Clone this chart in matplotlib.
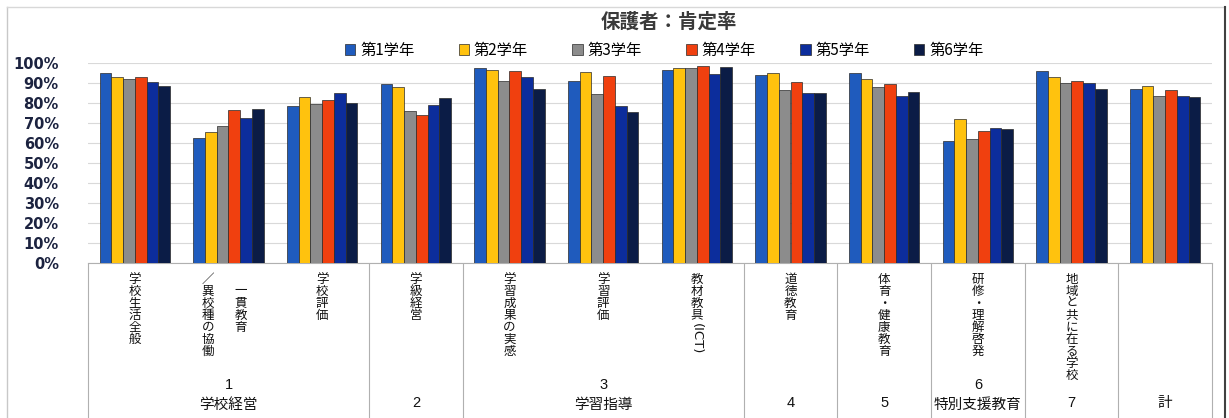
#保護者の肯定率を学年別に並べた棒グラフ
import numpy as np
import matplotlib.pyplot as plt
from matplotlib.transforms import blended_transform_factory
from matplotlib.lines import Line2D

plt.rcParams['font.family'] = ['Noto Sans CJK JP', 'DejaVu Sans']

grades = ["第1学年", "第2学年", "第3学年", "第4学年", "第5学年", "第6学年"]
categories = ["学校生活全般", "　一貫教育\n／異校種の協働", "学校評価", "学級経営",
              "学習成果の実感", "学習評価", "教材教具(ICT)", "道徳教育",
              "体育・健康教育", "研修・理解啓発", "地域と共に在る学校", ""]
groups = ["1\n学校経営", "2", "3\n学習指導", "4", "5", "6\n特別支援教育", "7", "計"]
group_sizes = [3, 1, 3, 1, 1, 1, 1, 1]
y_ticks = [0, 10, 20, 30, 40, 50, 60, 70, 80, 90, 100]
y_tick_labels = ["0%", "10%", "20%", "30%", "40%", "50%", "60%", "70%", "80%", "90%", "100%"]

rate_g1 = [95.0, 62.3, 78.3, 89.7, 97.5, 90.8, 96.3, 93.8, 94.8, 61.0, 96.0, 87.2]
rate_g2 = [93.0, 65.7, 83.0, 87.8, 96.5, 95.3, 97.3, 95.2, 91.8, 72.0, 93.0, 88.3]
rate_g3 = [92.0, 68.3, 79.3, 76.0, 91.2, 84.7, 97.7, 86.7, 88.0, 62.0, 90.2, 83.5]
rate_g4 = [93.2, 76.5, 81.5, 74.0, 96.0, 93.3, 98.5, 90.7, 89.3, 65.8, 90.8, 86.3]
rate_g5 = [90.3, 72.5, 85.2, 78.8, 93.2, 78.7, 94.7, 85.0, 83.5, 67.3, 90.2, 83.7]
rate_g6 = [88.5, 77.0, 79.8, 82.7, 87.0, 75.5, 98.2, 85.0, 85.5, 66.8, 87.0, 83.2]
rates = [rate_g1, rate_g2, rate_g3, rate_g4, rate_g5, rate_g6]

colors = ["#1f5bbd", "#ffc20e", "#8c8c8c", "#f0400f", "#0c2d9c", "#0b1c46"]


def main():
    fig = plt.figure(figsize=(12.29, 4.18), dpi=100)
    ax = fig.add_axes([88 / 1229, 1 - 263 / 418, 1124 / 1229, 200 / 418])

    x = np.arange(len(categories))
    width = 0.125
    for i, (vals, c) in enumerate(zip(rates, colors)):
        ax.bar(x + (i - 2.5) * width, vals, width, color=c, edgecolor="#2a2a2a",
               linewidth=0.5, label=grades[i], zorder=3)

    ax.set_xlim(-0.5, len(categories) - 0.5)
    ax.set_ylim(0, 100)
    ax.set_yticks(y_ticks)
    ax.set_yticklabels(y_tick_labels, family="DejaVu Sans", fontweight="bold",
                       fontsize=10.5, color="#1c2340")
    ax.tick_params(axis="y", length=0, pad=21)
    ax.set_xticks([])
    ax.grid(axis="y", color="#d9d9d9", linewidth=0.8, zorder=0)
    for s in ["top", "right", "left"]:
        ax.spines[s].set_visible(False)
    ax.spines["bottom"].set_color("#b0b0b0")

    # 表の部分(カテゴリ名とグループ名)
    trans = blended_transform_factory(ax.transData, ax.transAxes)
    step = 0.06
    top = -0.05
    for xi, name in zip(x, categories):
        cols = name.split("\n")
        offsets = [0.0] if len(cols) == 1 else [0.13, -0.22]
        for col, off in zip(cols, offsets):
            rot = ""
            if "(" in col:
                col, rot = col[:col.index("(")], col[col.index("("):]
            for k, ch in enumerate(col):
                ax.text(xi + off, top - (k + 0.5) * step, ch, transform=trans,
                        ha="center", va="center", fontsize=9, color="#111111")
            if rot:
                ax.text(xi + off, top - len(col) * step - 0.01, rot, transform=trans,
                        ha="center", va="top", rotation=-90, fontsize=9.5,
                        family="DejaVu Sans", color="#111111")

    bounds = np.concatenate([[0], np.cumsum(group_sizes)]) - 0.5
    ax.vlines(bounds, -0.8, 0, transform=trans, colors="#b0b0b0",
              linewidth=0.8, clip_on=False)
    for g, lo, hi in zip(groups, bounds[:-1], bounds[1:]):
        mid = (lo + hi) / 2
        parts = g.split("\n")
        if len(parts) == 2:
            ax.text(mid, -0.61, parts[0], transform=trans, ha="center", va="center",
                    fontsize=10.5, family="Liberation Sans", color="#111111")
            ax.text(mid, -0.71, parts[1], transform=trans, ha="center", va="center",
                    fontsize=10.5, color="#111111")
        else:
            ax.text(mid, -0.70, parts[0], transform=trans, ha="center", va="center",
                    fontsize=10.5, family=["Liberation Sans", "Noto Sans CJK JP"],
                    color="#111111")

    fig.text(669 / 1229, 1 - 22 / 418, "保護者：肯定率", ha="center", va="center",
             fontsize=14, color="#3a3a3a", fontweight="bold")
    fig.legend(loc="center", bbox_to_anchor=(664 / 1229, 1 - 50 / 418), ncol=6,
               frameon=False, fontsize=11, handlelength=0.7, handleheight=0.7,
               handletextpad=0.3, columnspacing=2.9, borderpad=0)

    # 外枠
    fig.add_artist(Line2D([7 / 1229, 7 / 1229], [0, 1 - 7 / 418], color="#c8c8c8", lw=1))
    fig.add_artist(Line2D([7 / 1229, 1225 / 1229], [1 - 7 / 418, 1 - 7 / 418],
                          color="#d8d8d8", lw=1))
    fig.add_artist(Line2D([1225 / 1229, 1225 / 1229], [0, 1 - 7 / 418], color="#404040", lw=1.5))

    fig.savefig("out.png", dpi=100)


if __name__ == "__main__":
    main()
